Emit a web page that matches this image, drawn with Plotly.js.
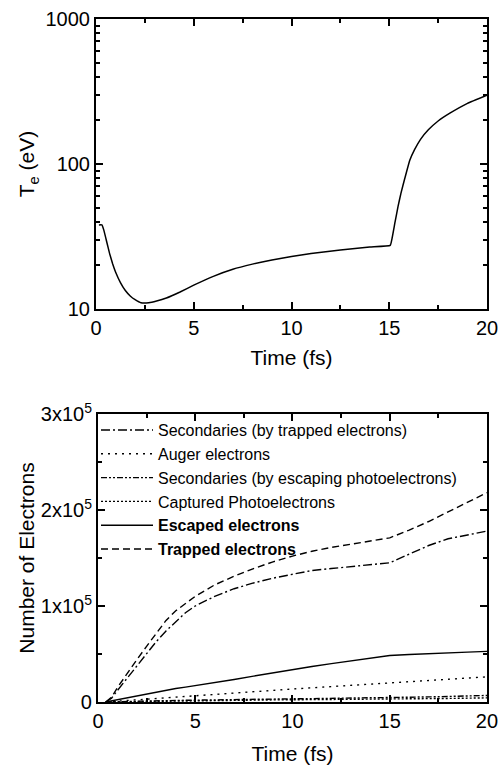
<!DOCTYPE html>
<html><head><meta charset="utf-8">
<script src="https://cdn.plot.ly/plotly-3.0.1.min.js"></script>
<style>html,body{margin:0;padding:0;background:#fff;}#plot{width:503px;height:765px;}</style>
</head><body><div id="plot"></div>
<script>
// Top panel: electron temperature
const teTime = [0.15, 0.3, 0.4, 0.55, 0.7, 0.85, 1.0, 1.25, 1.5, 1.75, 2.0, 2.3, 2.7, 3.1, 3.6, 4.3, 5.0, 6.0, 7.0, 8.0, 9.0, 10.0, 11.0, 12.5, 14.0, 15.05, 15.15, 15.3, 15.45, 15.6, 15.8, 16.05, 16.3, 16.6, 17.0, 17.5, 18.1, 19.0, 20.0];
const teValue = [38, 38, 35, 29, 24, 20.5, 18, 15.2, 13.4, 12.3, 11.6, 11.05, 11.05, 11.35, 11.9, 13.1, 14.6, 16.8, 18.8, 20.4, 21.8, 23.0, 24.1, 25.5, 26.8, 27.5, 31, 40, 51, 63, 80, 106, 126, 148, 172, 198, 224, 262, 298];

// Bottom panel: number of electrons (in units of 1e5)
const nTime = [0.4, 0.7, 1.0, 1.5, 2.0, 2.5, 3.0, 3.5, 4.0, 4.5, 5, 6, 7, 8, 9, 10, 11, 12, 13, 14, 15, 16, 17, 18, 19, 20];
const secTrapped = [0, 0.04, 0.12, 0.25, 0.38, 0.51, 0.63, 0.74, 0.84, 0.93, 1.0, 1.1, 1.18, 1.24, 1.29, 1.33, 1.37, 1.39, 1.41, 1.43, 1.45, 1.54, 1.63, 1.70, 1.74, 1.78];
const auger = [0, 0.004, 0.008, 0.015, 0.022, 0.03, 0.037, 0.044, 0.051, 0.058, 0.065, 0.079, 0.093, 0.107, 0.121, 0.135, 0.148, 0.161, 0.174, 0.187, 0.2, 0.213, 0.226, 0.238, 0.25, 0.262];
const secEscaping = [0, 0.002, 0.004, 0.006, 0.008, 0.01, 0.012, 0.014, 0.016, 0.018, 0.02, 0.023, 0.026, 0.029, 0.031, 0.033, 0.035, 0.037, 0.039, 0.041, 0.043, 0.048, 0.053, 0.058, 0.063, 0.068];
const captured = [0, 0.001, 0.003, 0.005, 0.007, 0.009, 0.011, 0.012, 0.013, 0.014, 0.015, 0.017, 0.019, 0.021, 0.022, 0.023, 0.024, 0.025, 0.026, 0.027, 0.028, 0.031, 0.034, 0.037, 0.04, 0.043];
const escaped = [0, 0.012, 0.025, 0.045, 0.065, 0.085, 0.105, 0.123, 0.14, 0.155, 0.17, 0.2, 0.235, 0.27, 0.305, 0.34, 0.37, 0.40, 0.43, 0.46, 0.485, 0.495, 0.505, 0.513, 0.52, 0.527];
const trapped = [0, 0.05, 0.15, 0.30, 0.44, 0.58, 0.72, 0.85, 0.95, 1.03, 1.10, 1.22, 1.31, 1.39, 1.46, 1.52, 1.57, 1.61, 1.645, 1.675, 1.71, 1.79, 1.88, 1.98, 2.08, 2.18];

const seriesNames = ['Secondaries (by trapped electrons)', 'Auger electrons', 'Secondaries (by escaping photoelectrons)', 'Captured Photoelectrons', '<b>Escaped electrons</b>', '<b>Trapped electrons</b>'];
const seriesData = [secTrapped, auger, secEscaping, captured, escaped, trapped];
const seriesDash = ['9px,3px,2px,3px', '2px,5px', '6px,2px,2px,2px,2px,2px', '2px,2px', 'solid', '7px,4px'];

// Tick labels and positions
const timeTicks = [0, 5, 10, 15, 20];
const timeMinor = [2.5, 7.5, 12.5, 17.5];
const teTicks = [10, 100, 1000];
const teTickText = ['10', '100', '1000'];
const teMinor = [20, 30, 40, 50, 60, 70, 80, 90, 200, 300, 400, 500, 600, 700, 800, 900];
const nTicks = [0, 1e5, 2e5, 3e5];
const nTickText = ['0', '1x10<sup>5</sup>', '2x10<sup>5</sup>', '3x10<sup>5</sup>'];
const nMinor = [0.5e5, 1.5e5, 2.5e5];

const scale = 1e5;
const traces = [{
  x: teTime, y: teValue, type: 'scatter', mode: 'lines', xaxis: 'x', yaxis: 'y',
  line: {color: '#000', width: 1.5, shape: 'spline', smoothing: 0.3}, showlegend: false
}];
seriesData.forEach((arr, i) => {
  traces.push({
    x: nTime, y: arr.map(v => v * scale), type: 'scatter', mode: 'lines', xaxis: 'x2', yaxis: 'y2',
    name: seriesNames[i], line: {color: '#000', width: 1.4, dash: seriesDash[i]}, showlegend: true
  });
});

const ff = 'Liberation Sans, Arial, sans-serif';
const minorCommon = {ticks: 'inside', ticklen: 4, tickwidth: 2, tickcolor: '#000', tickmode: 'array', showgrid: false};
function axis(extra) {
  return Object.assign({
    showline: true, mirror: 'ticks', linecolor: '#000', linewidth: 2,
    ticks: 'inside', ticklen: 7, tickwidth: 2, tickcolor: '#000',
    showgrid: false, zeroline: false, tickmode: 'array', layer: 'above traces',
    tickfont: {family: ff, size: 20, color: '#000'}
  }, extra);
}

const layout = {
  width: 503, height: 765,
  margin: {l: 96, r: 16, t: 19, b: 63},
  font: {family: ff, color: '#000'},
  showlegend: true,
  legend: {x: 0.0, y: 0.423, xref: 'paper', yref: 'paper', xanchor: 'left', yanchor: 'top',
    bgcolor: 'rgba(0,0,0,0)', font: {family: ff, size: 16, color: '#000'},
    itemwidth: 52, tracegroupgap: 0},
  xaxis: axis({
    domain: [0, 1], anchor: 'y', range: [0, 20], tickvals: timeTicks,
    minor: Object.assign({tickvals: timeMinor}, minorCommon),
    title: {text: 'Time (fs)', font: {family: ff, size: 21, color: '#000'}, standoff: 12}
  }),
  yaxis: axis({
    domain: [0.5754, 1], anchor: 'x', type: 'log', range: [1, 3],
    tickvals: teTicks, ticktext: teTickText,
    minor: Object.assign({tickvals: teMinor}, minorCommon),
    title: {text: 'T<sub>e</sub> (eV)', font: {family: ff, size: 21, color: '#000'}, standoff: 5}
  }),
  xaxis2: axis({
    domain: [0.005, 1], anchor: 'y2', range: [0, 20], tickvals: timeTicks,
    minor: Object.assign({tickvals: timeMinor}, minorCommon),
    title: {text: 'Time (fs)', font: {family: ff, size: 21, color: '#000'}, standoff: 15}
  }),
  yaxis2: axis({
    domain: [0, 0.4217], anchor: 'x2', range: [0, 3e5],
    tickvals: nTicks, ticktext: nTickText,
    minor: Object.assign({tickvals: nMinor}, minorCommon),
    title: {text: 'Number of Electrons', font: {family: ff, size: 21, color: '#000'}, standoff: 0}
  })
};

Plotly.newPlot('plot', traces, layout, {staticPlot: true, displayModeBar: false});
</script>
</body></html>
